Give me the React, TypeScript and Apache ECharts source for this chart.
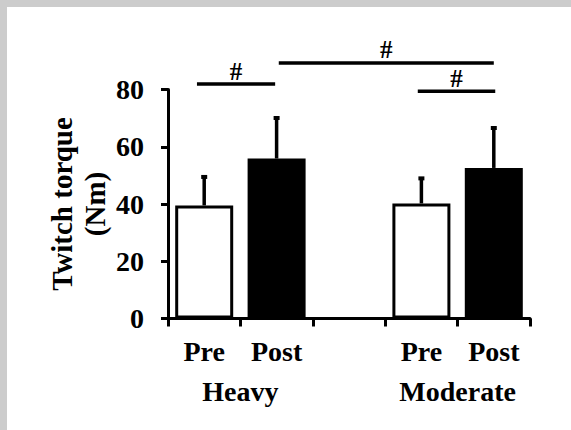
import React, { useEffect, useRef } from "react";
import * as echarts from "echarts";

const categories = ["Pre", "Post", "", "Pre", "Post"];
const groupLabels = ["", "", "Heavy", "", "", "", "", "", "Moderate", "", ""];
const meanValues = [39.5, 55.9, null, 40.2, 52.6];
const errorTops = [49.8, 70.4, null, 49.3, 66.9];
const barFills = ["#ffffff", "#000000", "#ffffff", "#ffffff", "#000000"];
// significance brackets: [fromCategory, toCategory, height (Nm)]
const sigFrom = [-0.1, 1.03, 2.95];
const sigTo = [0.98, 4, 4.02];
const sigLevel = [81.9, 89.3, 79.4];
const sigText = ["#", "#", "#"];
const yTicks = { min: 0, max: 80, interval: 20 };

const FONT = "'Liberation Serif', 'Times New Roman', serif";

export default function App() {
  const ref = useRef<HTMLDivElement>(null);
  useEffect(() => {
    if (!ref.current) return;
    const chart = echarts.init(ref.current, undefined, { renderer: "svg" });
    const errData = meanValues
      .map((m, i) => (m == null ? null : [i, m, errorTops[i]]))
      .filter((d) => d !== null);
    const sigData = sigFrom.map((f, i) => [f, sigTo[i], sigLevel[i], i]);
    chart.setOption({
      animation: false,
      backgroundColor: "#ffffff",
      graphic: [
        { type: "rect", shape: { x: 0, y: 0, width: 571, height: 7 }, style: { fill: "#cccccc" }, z: 100 },
        { type: "rect", shape: { x: 0, y: 0, width: 7, height: 430 }, style: { fill: "#cccccc" }, z: 100 },
      ],
      grid: { left: 168, right: 41, top: 89.5, bottom: 111.5, containLabel: false },
      xAxis: [
        {
          type: "category",
          data: categories,
          axisLine: { onZero: false, lineStyle: { color: "#000", width: 3 } },
          axisTick: { show: true, length: 8, lineStyle: { color: "#000", width: 3 } },
          axisLabel: { color: "#000", fontFamily: FONT, fontWeight: "bold", fontSize: 28, margin: 19, interval: 0 },
          splitLine: { show: false },
        },
        {
          type: "category",
          position: "bottom",
          offset: 40,
          boundaryGap: false,
          data: groupLabels,
          axisLine: { show: false, onZero: false },
          axisTick: { show: false },
          axisLabel: { color: "#000", fontFamily: FONT, fontWeight: "bold", fontSize: 28, margin: 19, interval: 0 },
          splitLine: { show: false },
        },
        {
          type: "value",
          show: false,
          min: -0.5,
          max: 4.5,
          axisLine: { onZero: false },
        },
      ],
      yAxis: {
        type: "value",
        min: yTicks.min,
        max: yTicks.max,
        interval: yTicks.interval,
        name: "Twitch torque\n(Nm)",
        nameLocation: "middle",
        nameRotate: 90,
        nameGap: 57,
        nameMoveOverlap: false,
        nameTextStyle: { color: "#000", fontFamily: FONT, fontWeight: "bold", fontSize: 29, lineHeight: 33 },
        axisLine: { show: true, onZero: false, lineStyle: { color: "#000", width: 3 } },
        axisTick: { show: true, length: 7, lineStyle: { color: "#000", width: 3 } },
        axisLabel: { color: "#000", fontFamily: FONT, fontWeight: "bold", fontSize: 28, margin: 24 },
        splitLine: { show: false },
      },
      series: [
        {
          type: "bar",
          xAxisIndex: 0,
          barWidth: 58,
          data: meanValues.map((v, i) => ({
            value: v,
            itemStyle: { color: barFills[i], borderColor: "#000", borderWidth: 3 },
          })),
          z: 2,
        },
        {
          type: "custom",
          xAxisIndex: 0,
          clip: false,
          z: 3,
          data: errData,
          renderItem: (params: any, api: any) => {
            const base = api.coord([api.value(0), api.value(1)]);
            const top = api.coord([api.value(0), api.value(2)]);
            return {
              type: "group",
              children: [
                {
                  type: "line",
                  shape: { x1: base[0], y1: base[1], x2: top[0], y2: top[1] },
                  style: { stroke: "#000", lineWidth: 3.5 },
                },
                {
                  type: "rect",
                  shape: { x: top[0] - 3, y: top[1] - 1, width: 6, height: 4 },
                  style: { fill: "#000" },
                },
              ],
            };
          },
        },
        {
          type: "custom",
          xAxisIndex: 2,
          clip: false,
          z: 3,
          data: sigData,
          renderItem: (params: any, api: any) => {
            const p1 = api.coord([api.value(0), api.value(2)]);
            const p2 = api.coord([api.value(1), api.value(2)]);
            const idx = api.value(3);
            return {
              type: "group",
              children: [
                {
                  type: "line",
                  shape: { x1: p1[0], y1: p1[1], x2: p2[0], y2: p2[1] },
                  style: { stroke: "#000", lineWidth: 3.5 },
                },
                {
                  type: "text",
                  x: (p1[0] + p2[0]) / 2,
                  y: p1[1] - 13,
                  style: {
                    text: sigText[idx],
                    fill: "#000",
                    fontFamily: FONT,
                    fontWeight: "bold",
                    fontSize: 25,
                    align: "center",
                    verticalAlign: "middle",
                  },
                },
              ],
            };
          },
        },
      ],
    });
    return () => chart.dispose();
  }, []);
  return (
    <div style={{ position: "fixed", left: 0, top: 0, width: 571, height: 430, background: "#fff" }}>
      <div ref={ref} style={{ width: 571, height: 430 }} />
    </div>
  );
}
